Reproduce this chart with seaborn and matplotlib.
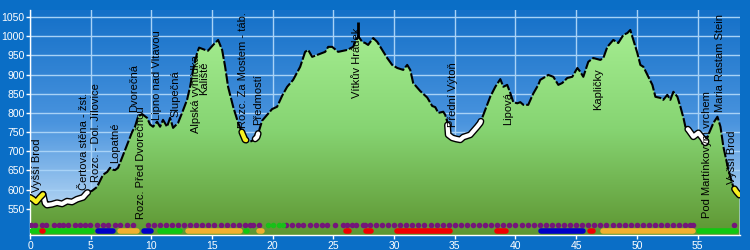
import numpy as np
import matplotlib
matplotlib.use("Agg")
import matplotlib.pyplot as plt
import matplotlib.patheffects as pe
from matplotlib.colors import LinearSegmentedColormap
import seaborn as sns

plt.rcParams['font.family'] = ['Liberation Sans', 'DejaVu Sans']

# ---- data -------------------------------------------------------------
km = [0.0, 0.25, 0.5, 0.82, 1.07, 1.24, 1.40, 1.81, 2.23, 2.64, 3.05, 3.46, 3.87, 4.37, 4.70,
      5.11, 5.52, 6.02, 6.35, 6.60, 6.84, 7.01, 7.25, 7.58, 8.0, 8.41, 8.66, 8.90, 9.23, 9.65,
      9.89, 10.14, 10.47, 10.72, 10.96, 11.29, 11.54, 11.79, 12.2, 12.53, 12.94, 13.19, 13.44,
      13.77, 13.93, 14.43, 14.67, 15.09, 15.5, 15.83, 16.08, 16.32, 16.74, 17.15, 17.48, 17.72,
      18.14, 18.47, 18.71, 19.13, 19.54, 19.95, 20.36, 20.78, 21.19, 21.68, 22.26, 22.67, 22.92,
      23.25, 23.66, 24.32, 24.57, 24.9, 25.39, 26.13, 26.63, 26.88, 27.04, 27.37, 27.62, 27.86,
      28.28, 28.61, 29.02, 29.43, 29.84, 30.26, 30.75, 31.08, 31.33, 31.57, 32.15, 32.73, 33.14,
      33.39, 33.64, 34.05, 34.21, 34.38, 34.46, 34.79, 35.12, 35.45, 35.7, 36.27, 36.85, 37.1,
      37.51, 37.92, 38.34, 38.75, 39.0, 39.32, 39.57, 39.82, 40.15, 40.4, 40.65, 41.05, 41.46,
      41.88, 42.04, 42.46, 42.7, 43.12, 43.53, 43.86, 44.27, 44.68, 45.1, 45.34, 45.59, 46.0,
      46.41, 46.99, 47.24, 47.57, 48.06, 48.47, 48.89, 49.22, 49.46, 49.71, 50.04, 50.29, 50.54,
      50.95, 51.28, 51.53, 51.94, 52.18, 52.51, 52.76, 53.01, 53.34, 53.59, 53.84, 54.0, 54.25,
      54.66, 55.07, 55.4, 55.65, 55.89, 56.31, 56.64, 56.89, 57.13, 57.54, 57.95, 58.2, 58.45]
elevation = [580, 575, 568, 580, 588, 565, 560, 562, 566, 563, 570, 568, 575, 580, 592,
             597, 607, 639, 646, 657, 652, 651, 657, 683, 717, 750, 765, 790, 797, 787,
             770, 764, 777, 764, 782, 764, 787, 761, 774, 800, 834, 868, 912,
             956, 970, 964, 962, 977, 990, 964, 920, 868, 816, 774, 748, 730,
             725, 730, 737, 780, 795, 810, 816, 845, 868, 886, 920, 959, 964,
             946, 951, 959, 972, 972, 959, 964, 972, 990, 1000, 985, 982, 977,
             995, 985, 964, 943, 925, 917, 912, 925, 912, 878, 857, 840, 818,
             815, 800, 803, 795, 777, 743, 735, 732, 730, 737, 743, 764, 774,
             808, 842, 868, 888, 868, 873, 852, 828, 825, 828, 821, 821, 850,
             873, 886, 894, 899, 894, 873, 878, 891, 894, 917, 907, 894, 933,
             943, 938, 943, 972, 990, 982, 1003, 1008, 1016, 990, 956, 925, 920,
             894, 873, 842, 839, 834, 847, 834, 855, 842, 816, 787, 764, 756,
             738, 748, 735, 722, 743, 774, 790, 764, 712, 652, 607, 595, 586]

place_names = ["Vyšší Brod", "Čertova stěna - žst.", "Rozc. - Dol. Jílovice", "Lopatné",
               "Dvorečná", "Rozc. Před Dvorečnou", "Lipno nad Vltavou", "Slupečná",
               "Alpská vyhlídka", "Kaliště", "Rozc. Za Mostem - táb.", "Předmostí",
               "Vítkův Hrádek", "Přední Výtoň", "Lipová", "Kapličky",
               "Pod Martínkovým vrchem", "Maria Rastam Stein", "Vyšší Brod"]
place_km = [0.58, 4.45, 5.44, 7.0, 8.57, 9.15, 10.47, 11.95, 13.7, 14.35, 17.56, 18.8,
            26.96, 34.87, 39.4, 46.8, 55.8, 56.85, 57.85]
label_base = [594, 599, 620, 670, 803, 524, 782, 790, 748, 847, 761, 769,
              839, 764, 769, 808, 526, 803, 614]

white_ranges = [(1.07, 4.75), (18.55, 18.8), (34.4, 37.15), (54.2, 55.7)]
yellow_ranges = [(0.0, 1.07), (17.45, 17.8), (58.05, 58.45)]
tower_km, tower_top = 27.0, 1038

purple_dots = [0.05, 0.45, 0.95, 1.35, 1.95, 2.35, 2.75, 3.15, 3.7, 4.1, 4.55, 4.95, 5.5, 6.0,
               6.45, 7.0, 7.45, 8.0, 8.5, 9.7, 10.2, 10.7, 11.2, 11.7, 12.2, 12.7, 13.2, 13.7,
               14.2, 14.7, 15.2, 15.7, 16.2, 16.7, 17.2, 17.7, 18.1, 18.4, 18.9, 21.1, 21.6,
               22.1, 22.5, 23.1, 23.6, 24.1, 24.5, 25.1, 25.8, 26.1, 26.5, 26.9, 27.4, 27.6,
               28.0, 28.5, 29.0, 29.5, 30.0, 30.5, 31.0, 31.5, 32.0, 32.5, 33.0, 33.5, 34.0,
               34.5, 35.0, 35.5, 36.0, 36.5, 37.0, 37.5, 38.0, 38.5, 39.0, 39.5, 40.0, 40.5,
               41.0, 41.5, 42.0, 42.5, 43.0, 43.5, 44.0, 44.5, 45.0, 45.5, 46.0, 46.5, 47.0,
               47.5, 48.0, 48.5, 49.0, 49.5, 50.0, 50.5, 51.0, 51.5, 52.0, 52.5, 53.0, 53.5,
               54.0, 54.4, 54.6, 58.0]
green_dots = [19.6, 20.05, 20.5, 20.85]

bar_colors = ["#10c810", "#0000c8", "#f0b030", "#0000c8", "#10c810", "#f0b030", "#10c810",
              "#f0b030", "#f00000", "#f00000", "#f00000", "#f00000", "#0000c8", "#f00000",
              "#f0b030", "#10c810", "#f00000"]
bar_start = [0.2, 5.6, 7.4, 9.4, 10.7, 13.0, 17.8, 18.9, 26.0, 27.7, 30.2, 38.5, 42.1,
             46.1, 47.2, 55.1, 0.95]
bar_end = [5.1, 6.8, 8.8, 10.0, 12.4, 17.3, 17.9, 19.1, 26.3, 28.1, 34.6, 39.2, 45.6,
           46.4, 54.6, 58.2, 1.05]

dot_level, bar_level = 508, 493
ymin, ymax, xmax = 482, 1068, 58.5

# ---- figure -----------------------------------------------------------
fig = plt.figure(figsize=(7.5, 2.5), dpi=100, facecolor="#0a6ec6")
ax = fig.add_axes([30 / 750, 15 / 250, 710 / 750, 225 / 250])
ax.set_xlim(0, xmax)
ax.set_ylim(ymin, ymax)

sky = LinearSegmentedColormap.from_list("sky", ["#1470c8", "#4a94de", "#d2e8fa"])
grad = np.linspace(0, 1, 256).reshape(-1, 1)
ax.imshow(grad, cmap=sky, extent=[0, xmax, ymin, ymax], aspect="auto",
          origin="upper", zorder=0)

ax.set_axisbelow(True)
ax.grid(True, color="#a8d2f6", lw=1)
ax.set_xticks(range(0, 56, 5))
ax.set_yticks(range(550, 1051, 50))

poly = ax.fill_between(km, elevation, ymin, color="none", zorder=1)
greens = LinearSegmentedColormap.from_list("gr", ["#a6ee92", "#86d472", "#5e9632"])
gimg = ax.imshow(grad, cmap=greens, extent=[0, xmax, ymin, 1030], aspect="auto",
                 origin="upper", zorder=1.5)
gimg.set_clip_path(poly.get_paths()[0], transform=ax.transData)

sns.lineplot(x=km, y=elevation, ax=ax, color="black", lw=1.5, estimator=None,
             linestyle=(0, (5, 1)), zorder=3)

kma = np.array(km)
ela = np.array(elevation)


def segment(a, b):
    inner = (kma > a) & (kma < b)
    xs = np.concatenate([[a], kma[inner], [b]])
    ys = np.interp(xs, kma, ela)
    return xs, ys


for a, b in white_ranges:
    xs, ys = segment(a, b)
    ax.plot(xs, ys, color="white", lw=3, zorder=4, solid_capstyle="round",
            path_effects=[pe.Stroke(linewidth=5, foreground="black"), pe.Normal()])
for a, b in yellow_ranges:
    xs, ys = segment(a, b)
    ax.plot(xs, ys, color="#f8f020", lw=3, zorder=4, solid_capstyle="round",
            path_effects=[pe.Stroke(linewidth=5, foreground="black"), pe.Normal()])

ax.vlines(tower_km, np.interp(tower_km, kma, ela), tower_top, color="black", lw=2, zorder=4)

for name, x, y in zip(place_names, place_km, label_base):
    ax.text(x, y, name, rotation=90, ha="center", va="bottom", fontsize=8,
            color="black", zorder=5)

sns.scatterplot(x=purple_dots, y=[dot_level] * len(purple_dots), ax=ax, color="#74167a",
                s=16, linewidth=0, zorder=5)
sns.scatterplot(x=green_dots, y=[dot_level] * len(green_dots), ax=ax, color="#18c018",
                s=16, linewidth=0, zorder=5)
for c, a, b in zip(bar_colors, bar_start, bar_end):
    ax.plot([a, b], [bar_level, bar_level], color=c, lw=4, solid_capstyle="round", zorder=5)

for s in ["top", "right"]:
    ax.spines[s].set_visible(False)
for s in ["left", "bottom"]:
    ax.spines[s].set_color("white")
    ax.spines[s].set_linewidth(1)
ax.tick_params(colors="white", labelsize=7.5, length=3, width=1, pad=1)
ax.set_xlabel("")
ax.set_ylabel("")

fig.savefig("out.png", dpi=100, facecolor=fig.get_facecolor())
